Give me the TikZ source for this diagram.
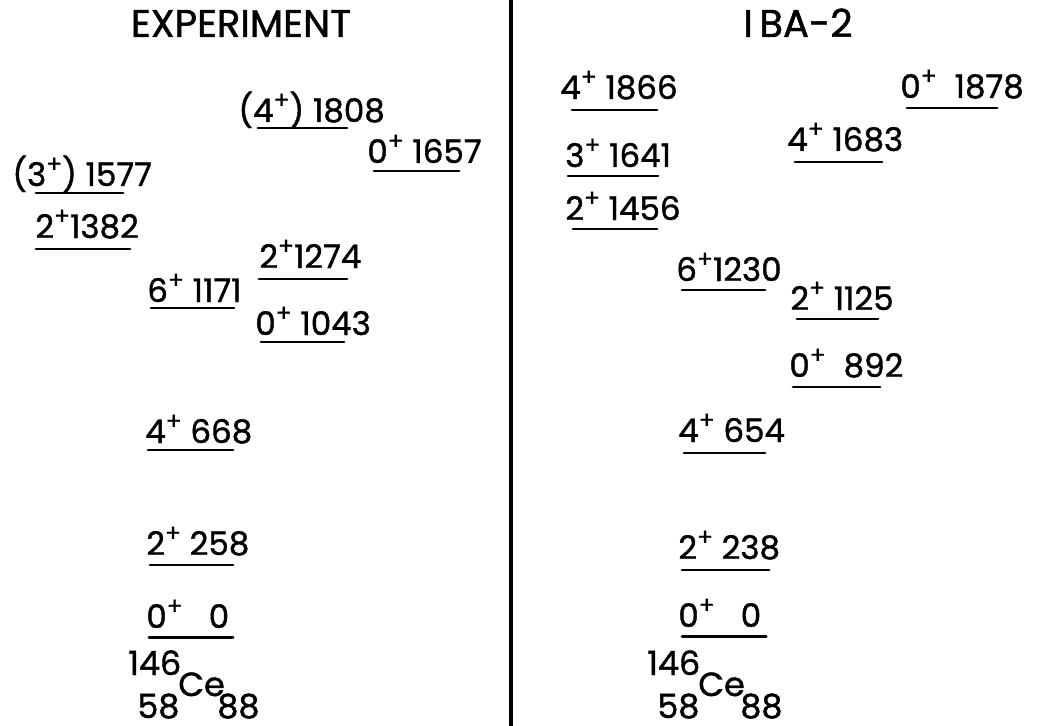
\documentclass[tikz,border=0pt]{standalone}
\usepackage{fontspec}
\setmainfont{Poppins}[FakeBold=1.2]
\usetikzlibrary{positioning}
\newcommand{\pl}{\raisebox{0.42em}{\scalebox{0.72}{+}}}

\begin{document}
\begin{tikzpicture}[
    x=0.02cm, y=-0.02cm,
    lbl/.style={anchor=base west, inner sep=0pt, font=\fontsize{18.5}{22}\selectfont},
    ttl/.style={anchor=base, inner sep=0pt, font=\fontsize{22}{26}\selectfont},
    nuc/.style={anchor=base west, inner sep=0pt, font=\fontsize{19}{23}\selectfont},
    lvl/.style={line width=1.7pt, line cap=round},
    divider/.style={line width=1.8pt},
]

\useasboundingbox (0,0) rectangle (1037,726);

% Divider
\coordinate (dtop) at (511,0);
\coordinate (dbot) at (511,726);
\draw[divider] (dtop) -- (dbot);

% Titles
\node[ttl] (tExp) at (241,37) {EXPERIMENT};
\node[ttl] (tIba) at (798,37) {I\,BA-2};

% Experiment
\node[lbl] (e1808) at (238,122) {(4\pl) 1808};
\draw[lvl] (258,128) -- (347,128);
\node[lbl] (e1657) at (367,163) {0\pl\ 1657};
\draw[lvl] (374,171) -- (459,171);
\node[lbl] (e1577) at (12,186) {(3\pl) 1577};
\draw[lvl] (36,193) -- (123,193);
\node[lbl] (e1382) at (35,238) {2\pl1382};
\draw[lvl] (36,249) -- (130,249);
\node[lbl] (e1274) at (259,268) {2\pl1274};
\draw[lvl] (259,279) -- (347,279);
\node[lbl] (e1171) at (147,302) {6\pl\ 1171};
\draw[lvl] (151,308) -- (234,308);
\node[lbl] (e1043) at (255,335) {0\pl\ 1043};
\draw[lvl] (261,342) -- (344,342);
\node[lbl] (e668) at (145,443) {4\pl\ 668};
\draw[lvl] (148,450) -- (233,450);
\node[lbl] (e258) at (146,555) {2\pl\ 258};
\draw[lvl] (150,565) -- (233,565);
\node[lbl] (e0) at (146,628) {0\pl\hspace{0.8em}0};
\draw[lvl] (149,637) -- (233,637);

\node[nuc] (eA) at (128,675) {146};
\node[nuc] (eCe) at (178,696) {Ce};
\node[nuc] (eZ) at (137,718) {58};
\node[nuc] (eN) at (217,718) {88};

% IBA-2
\node[lbl] (i1866) at (560,99) {4\pl\ 1866};
\draw[lvl] (572,110) -- (657,110);
\node[lbl] (i1878) at (900,98) {0\pl\hspace{0.55em}1878};
\draw[lvl] (907,108) -- (997,108);
\node[lbl] (i1683) at (787,151) {4\pl\ 1683};
\draw[lvl] (795,162) -- (882,162);
\node[lbl] (i1641) at (565,167) {3\pl\ 1641};
\draw[lvl] (568,176) -- (658,176);
\node[lbl] (i1456) at (565,220) {2\pl\ 1456};
\draw[lvl] (573,229) -- (657,229);
\node[lbl] (i1230) at (676,281) {6\pl1230};
\draw[lvl] (682,290) -- (765,290);
\node[lbl] (i1125) at (790,310) {2\pl\ 1125};
\draw[lvl] (797,319) -- (878,319);
\node[lbl] (i892) at (789,377) {0\pl\hspace{0.55em}892};
\draw[lvl] (793,387) -- (880,387);
\node[lbl] (i654) at (678,442) {4\pl\ 654};
\draw[lvl] (684,453) -- (765,453);
\node[lbl] (i238) at (678,559) {2\pl\ 238};
\draw[lvl] (682,570) -- (769,570);
\node[lbl] (i0) at (678,627) {0\pl\hspace{0.8em}0};
\draw[lvl] (682,636) -- (766,636);

\node[nuc] (iA) at (647,675) {146};
\node[nuc] (iCe) at (698,696) {Ce};
\node[nuc] (iZ) at (657,718) {58};
\node[nuc] (iN) at (740,718) {88};

\end{tikzpicture}
\end{document}
